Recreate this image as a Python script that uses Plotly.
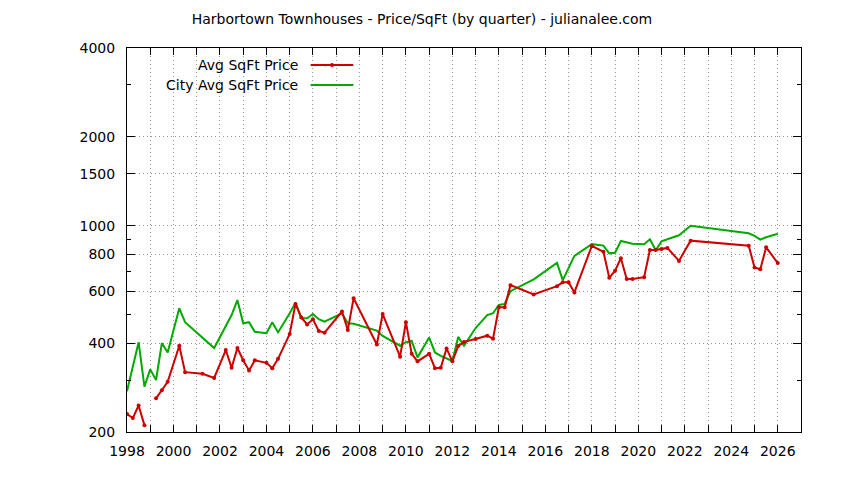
import plotly.graph_objects as go

# Avg SqFt price (red), None = no sale that quarter
avg_x = [1998.0, 1998.25, 1998.5, 1998.75, 1999.0, 1999.25, 1999.5, 1999.75,
         2000.25, 2000.5, 2001.25, 2001.75, 2002.25, 2002.5, 2002.75, 2003.0,
         2003.25, 2003.5, 2004.0, 2004.25, 2004.5, 2005.0, 2005.25, 2005.5,
         2005.75, 2006.0, 2006.25, 2006.5, 2007.25, 2007.5, 2007.75, 2008.75,
         2009.0, 2009.75, 2010.0, 2010.25, 2010.5, 2011.0, 2011.25, 2011.5,
         2011.75, 2012.0, 2012.25, 2012.5, 2013.0, 2013.5, 2013.75, 2014.0,
         2014.25, 2014.5, 2015.5, 2016.5, 2016.75, 2017.0, 2017.25, 2018.0,
         2018.5, 2018.75, 2019.0, 2019.25, 2019.5, 2019.75, 2020.25, 2020.5,
         2020.75, 2021.0, 2021.25, 2021.75, 2022.25, 2024.75, 2025.0, 2025.25,
         2025.5, 2026.0]
avg_y = [230, 223, 246, 211, None, 260, 277, 296,
         392, 319, 315, 305, 379, 330, 385, 350,
         323, 350, 343, 329, 354, 430, 543, 489,
         463, 482, 440, 434, 512, 443, 568, 396,
         502, 360, 471, 368, 347, 368, 329, 330,
         384, 347, 391, 404, 413, 424, 414, 529,
         529, 629, 585, 624, 643, 643, 594, 854,
         816, 666, 704, 776, 660, 660, 669, 828,
         828, 834, 841, 760, 890, 856, 722, 712,
         845, 747]

# City avg SqFt price (green)
city_x = [1998.0, 1998.5, 1998.75, 1999.0, 1999.25, 1999.5, 1999.75, 2000.25,
          2000.5, 2001.75, 2002.5, 2002.75, 2003.0, 2003.25, 2003.5, 2004.0,
          2004.25, 2004.5, 2005.0, 2005.25, 2005.5, 2005.75, 2006.0, 2006.25,
          2006.5, 2007.25, 2007.5, 2007.75, 2008.75, 2009.0, 2009.75, 2010.0,
          2010.25, 2010.5, 2011.0, 2011.25, 2011.5, 2012.0, 2012.25, 2012.5,
          2013.0, 2013.5, 2013.75, 2014.0, 2014.25, 2014.5, 2015.5, 2016.5,
          2016.75, 2017.25, 2018.0, 2018.5, 2018.75, 2019.0, 2019.25, 2019.5,
          2019.75, 2020.25, 2020.5, 2020.75, 2021.0, 2021.25, 2021.75, 2022.25,
          2024.75, 2025.0, 2025.25, 2025.5, 2026.0]
city_y = [275, 403, 285, 326, 300, 400, 372, 525,
          471, 385, 498, 560, 467, 471, 437, 432,
          471, 435, 505, 548, 486, 486, 502, 482,
          473, 505, 467, 465, 441, 423, 392, 403,
          407, 358, 418, 372, 362, 348, 420, 392,
          450, 498, 505, 539, 543, 600, 658, 748,
          654, 790, 866, 856, 806, 810, 888, 880,
          868, 866, 900, 826, 885, 900, 928, 1000,
          943, 924, 897, 914, 939]

x_ticks = list(range(1998, 2028))
x_labels = [str(y) if y % 2 == 0 else "" for y in x_ticks]
y_ticks = [200, 400, 600, 800, 1000, 1500, 2000, 4000]
y_minor = [300, 500, 700, 900, 3000]

RED = "#cc0000"
GREEN = "#00aa00"
FONT = "DejaVu Sans"
GRID = dict(showgrid=True, gridcolor="#9a9a9a", griddash="1px,3px", gridwidth=1)

fig = go.Figure()

fig.add_trace(go.Scatter(
    x=city_x, y=city_y, mode="lines", name="City Avg SqFt Price",
    line=dict(color=GREEN, width=2)
))
fig.add_trace(go.Scatter(
    x=avg_x, y=avg_y, mode="lines+markers", name="Avg SqFt Price",
    line=dict(color=RED, width=2),
    marker=dict(color=RED, size=4, symbol="circle"),
    connectgaps=False
))

# gnuplot-style legend: right-aligned text, sample to the right
legend_rows = [("Avg SqFt Price", RED, True, 0.9557),
               ("City Avg SqFt Price", GREEN, False, 0.9036)]
for label, color, has_marker, ypos in legend_rows:
    fig.add_annotation(
        x=0.2567, y=ypos, xref="paper", yref="paper", text=label,
        showarrow=False, xanchor="right", yanchor="middle",
        font=dict(family=FONT, size=14, color="black")
    )
    fig.add_shape(type="line", xref="paper", yref="paper",
                  x0=0.2725, x1=0.3358, y0=ypos, y1=ypos,
                  line=dict(color=color, width=2))
    if has_marker:
        cx = (0.2725 + 0.3358) / 2
        fig.add_shape(type="circle", xref="paper", yref="paper",
                      x0=cx - 0.003, x1=cx + 0.003,
                      y0=ypos - 0.0052, y1=ypos + 0.0052,
                      fillcolor=color, line=dict(color=color, width=0))

# page body has an 8px margin, so margins are shifted to put the plot box
# at the same place as the reference
fig.update_layout(
    width=844, height=480,
    margin=dict(l=119, r=51, t=40, b=56),
    paper_bgcolor="white", plot_bgcolor="white",
    showlegend=False,
    title=dict(text="Harbortown Townhouses - Price/SqFt (by quarter) - julianalee.com",
               x=0.4905, xanchor="center", y=0.977, yanchor="middle",
               font=dict(family=FONT, size=14, color="black")),
    font=dict(family=FONT, size=14, color="black"),
)

fig.update_xaxes(
    range=[1998, 2027],
    tickmode="array", tickvals=x_ticks, ticktext=x_labels,
    ticks="inside", ticklen=7, tickcolor="black", ticklabelstandoff=6,
    showline=True, linecolor="black", linewidth=1, mirror="ticks",
    zeroline=False, tickfont=dict(family=FONT, size=14), **GRID
)
fig.update_yaxes(
    type="log", range=[2.30103, 3.60206],
    tickmode="array", tickvals=y_ticks, ticktext=[str(v) for v in y_ticks],
    ticks="inside", ticklen=8, tickcolor="black", ticklabelstandoff=8,
    minor=dict(tickvals=y_minor, ticks="inside", ticklen=4, tickcolor="black", showgrid=False),
    showline=True, linecolor="black", linewidth=1, mirror="ticks",
    zeroline=False, tickfont=dict(family=FONT, size=14), **GRID
)

fig.write_html("out.html")
